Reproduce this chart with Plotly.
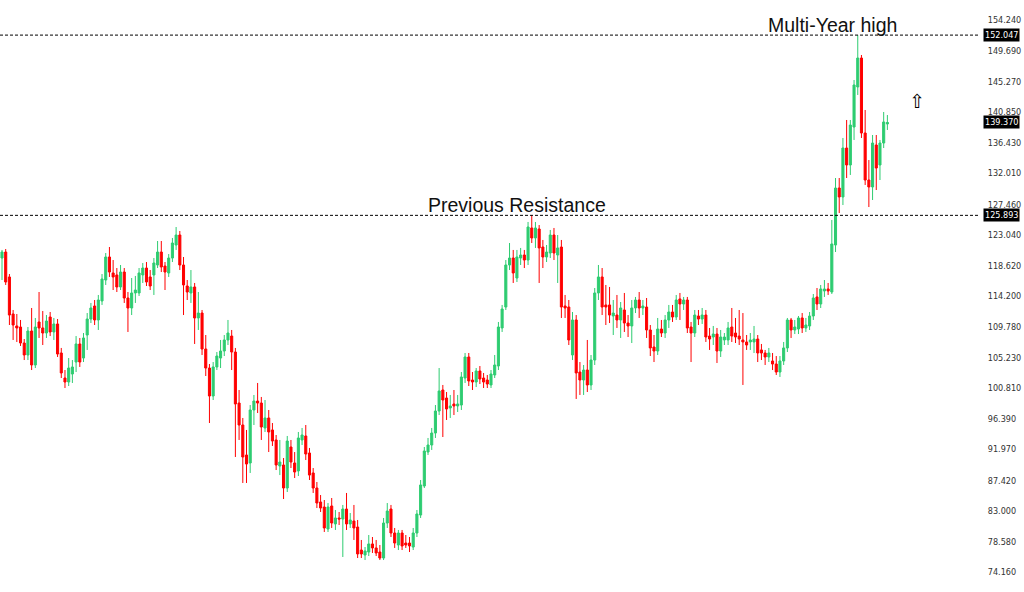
import plotly.graph_objects as go

# ---------------- data ----------------
opens = [119.70,120.57,116.95,111.58,109.84,109.69,107.37,105.63,109.11,104.18,
110.42,109.55,108.82,111.14,108.97,110.13,105.92,102.29,101.71,102.87,
104.61,107.23,105.19,108.53,110.85,112.74,110.71,113.47,116.51,119.85,
117.53,117.24,115.50,117.67,113.90,112.45,114.63,114.63,117.24,118.25,
116.95,117.24,118.69,120.57,118.54,117.53,119.70,121.59,123.04,118.69,
115.64,114.63,115.50,111.00,111.72,106.50,103.74,99.68,103.89,105.19,
106.21,107.81,108.38,106.06,98.66,95.47,91.12,89.96,97.65,98.95,
98.66,95.04,96.49,94.75,93.30,89.52,89.67,86.33,92.28,89.96,
88.80,93.30,93.88,91.41,88.51,86.33,84.30,83.57,80.38,83.72,
81.11,81.98,81.83,83.28,81.11,81.54,80.67,77.33,76.61,77.04,
78.21,77.63,77.04,76.17,81.25,83.28,79.80,78.06,79.80,78.35,
78.35,77.77,79.80,82.41,86.62,91.55,92.57,94.31,97.50,100.55,
99.39,97.94,98.52,98.23,98.37,102.29,105.34,102.00,101.71,103.31,
102.29,102.00,101.28,102.73,104.03,109.55,112.59,118.69,119.70,116.80,
119.70,120.14,119.41,124.06,122.61,123.91,121.30,119.85,120.43,123.04,
120.14,121.30,112.74,112.59,105.63,110.71,103.16,102.00,103.45,101.28,
104.90,114.63,116.95,112.89,112.89,111.29,111.43,110.71,112.16,110.27,
109.84,112.45,113.61,112.45,112.59,109.26,106.79,106.21,109.40,108.82,
110.71,111.87,111.14,113.76,113.03,113.61,109.69,108.82,111.29,110.85,
111.43,108.38,108.24,108.67,106.21,107.81,107.81,109.69,108.82,108.38,
107.81,107.52,107.52,107.52,107.95,106.36,105.92,105.34,104.76,104.32,
103.16,104.76,106.65,110.71,109.26,109.40,111.00,109.55,109.84,111.29,
114.05,113.03,114.92,115.21,114.77,121.59,129.86,128.56,135.66,133.20,
138.71,144.52,148.72,137.84,131.02,130.01,136.10,133.20,136.39,139.15]

closes = [120.57,116.22,111.43,109.98,109.55,107.37,105.63,109.11,104.18,109.69,
109.55,108.82,110.56,108.97,110.13,105.77,103.02,101.71,103.74,103.89,
107.23,104.61,108.10,110.85,112.45,110.71,113.61,116.66,119.85,117.67,
116.95,115.50,117.67,113.90,112.45,114.63,115.06,117.53,118.25,116.22,
115.64,118.98,120.57,118.40,117.67,119.70,121.88,123.04,118.69,115.79,
114.77,115.50,111.00,111.72,106.50,103.74,99.68,103.89,105.48,106.21,
107.81,108.82,106.06,98.52,95.47,90.83,89.81,97.65,98.95,98.66,
95.18,96.49,94.46,93.15,89.67,90.10,86.33,93.15,90.10,88.65,
93.59,94.02,91.26,88.21,86.33,84.15,83.43,80.53,83.57,81.25,
81.98,81.83,83.28,81.11,81.69,80.53,76.76,76.76,77.19,78.21,
77.63,76.90,76.17,81.25,82.99,79.80,78.35,79.80,77.92,78.06,
77.92,79.80,82.56,86.77,91.70,92.57,94.31,97.50,100.41,99.10,
97.79,98.23,98.23,98.52,102.44,105.34,101.86,101.71,103.31,102.15,
101.71,101.42,102.87,104.18,109.69,112.30,118.69,119.70,117.53,119.85,
120.14,119.41,124.20,122.61,124.06,121.16,119.85,120.57,123.04,120.43,
121.16,112.59,112.45,107.81,110.71,103.02,102.00,103.45,101.28,104.90,
114.63,116.95,112.59,112.59,111.43,111.72,110.71,112.45,110.27,109.84,
112.45,113.61,112.45,112.74,109.26,106.65,106.21,109.40,108.82,110.71,
111.87,111.14,113.61,113.03,113.61,109.55,108.82,111.43,110.85,111.43,
108.24,107.95,108.67,106.21,108.24,108.24,109.55,108.38,108.24,107.95,
107.52,107.08,107.81,107.95,105.92,105.92,105.34,105.92,104.32,103.16,
104.76,106.65,110.71,109.26,109.69,111.00,109.55,109.98,111.29,113.90,
113.03,115.21,115.21,114.92,121.74,129.86,128.56,135.66,133.20,139.00,
144.81,148.72,137.84,131.02,130.01,136.39,132.76,136.39,139.44,139.37]

highs = [120.87,121.01,117.38,112.16,111.58,110.71,107.95,109.69,112.45,111.00,
114.77,112.01,111.43,111.87,111.00,110.85,106.65,103.45,105.19,104.90,
108.38,108.10,108.82,111.72,113.18,113.61,114.34,117.38,120.43,121.30,
119.41,118.25,118.69,118.25,114.77,116.80,117.10,118.25,118.98,119.12,
117.96,119.70,122.17,122.17,119.12,120.28,122.61,124.20,123.62,119.85,
116.51,117.96,116.08,114.77,112.16,108.53,104.32,104.61,106.06,107.81,
108.53,110.71,109.26,106.65,100.55,96.49,94.75,98.37,99.83,101.57,
99.54,99.10,97.65,95.76,94.02,93.30,90.68,93.88,93.30,91.55,
94.46,95.04,95.47,92.14,89.23,87.20,85.31,84.59,84.15,84.88,
83.14,82.85,83.87,85.61,82.70,83.87,81.69,78.79,77.77,79.51,
79.22,78.79,78.06,81.98,84.15,83.87,80.53,80.24,80.24,79.51,
79.22,80.53,83.14,87.49,92.28,93.59,95.04,98.37,103.74,101.28,
100.26,99.83,100.55,99.83,103.16,105.92,105.92,103.16,103.74,104.03,
103.02,102.73,103.45,105.63,110.42,112.89,119.41,121.88,120.87,120.87,
121.16,120.87,124.93,125.94,124.93,124.49,122.32,121.59,123.77,124.06,
123.04,122.32,114.34,113.61,111.87,111.43,104.61,104.18,107.81,105.63,
115.35,118.69,118.25,115.79,115.50,113.61,114.34,113.32,114.63,111.43,
113.61,114.05,114.77,113.61,113.90,109.98,108.53,111.00,110.71,111.43,
112.89,112.89,114.34,114.63,114.05,114.05,110.42,112.16,112.16,112.45,
112.16,109.55,109.84,109.55,109.26,108.82,110.42,112.45,111.00,112.16,
111.72,108.53,108.82,109.84,108.53,107.23,106.36,106.65,105.92,105.48,
105.48,107.52,111.00,111.00,110.71,111.29,111.72,111.00,111.87,114.48,
115.35,115.79,116.51,116.08,125.22,131.31,131.31,137.12,139.73,139.73,
145.53,152.05,149.16,141.18,133.92,137.55,137.55,136.83,140.89,140.45]

lows = [116.51,115.79,109.98,107.81,107.52,106.94,104.90,104.90,103.45,103.74,
108.10,107.08,108.10,108.38,107.81,105.34,102.29,100.84,101.13,101.57,
103.16,103.89,104.61,106.36,110.27,109.98,109.26,112.89,115.79,116.95,
115.06,114.77,115.06,113.18,108.97,111.43,113.18,114.19,116.08,115.64,
115.06,114.34,118.25,117.67,115.06,116.95,119.12,120.87,117.96,111.43,
113.61,113.18,107.23,109.26,105.63,102.58,95.76,99.10,103.45,103.74,
105.48,107.08,103.45,90.83,93.30,87.06,87.06,88.51,95.47,97.21,
93.30,94.46,91.55,92.43,88.94,88.21,84.73,85.75,89.23,87.78,
88.07,92.57,90.39,87.49,85.61,83.43,82.85,79.95,79.95,80.53,
80.24,80.96,76.32,80.24,80.53,78.79,76.17,76.17,75.88,76.46,
76.90,76.46,75.88,75.88,80.53,79.22,77.63,77.33,77.33,77.63,
77.04,77.33,79.22,81.98,86.33,91.12,91.85,93.59,96.92,93.73,
96.20,96.49,96.92,97.36,97.65,101.57,101.13,100.55,100.98,101.42,
100.84,100.84,100.84,102.29,103.45,108.97,112.16,117.96,116.08,116.22,
118.69,118.25,118.69,121.88,121.16,116.08,118.25,119.12,119.70,119.41,
116.08,111.00,111.00,107.08,104.90,99.25,99.83,99.83,100.26,100.55,
104.18,113.61,111.43,109.98,110.27,108.53,109.55,108.10,108.97,108.24,
107.37,111.72,111.00,111.43,108.10,105.48,104.61,105.63,108.24,108.10,
109.55,110.42,110.71,110.71,112.16,108.82,104.61,108.24,109.98,110.13,
107.52,106.36,107.08,104.47,105.34,107.08,107.08,107.52,107.37,107.08,
101.28,106.36,106.36,105.92,104.61,104.90,104.18,104.61,103.45,102.73,
102.44,104.18,106.06,108.10,108.67,108.67,108.82,108.97,109.26,110.71,
112.16,112.45,114.05,114.34,114.48,120.57,126.23,127.39,131.31,131.75,
136.83,143.36,137.12,130.30,127.10,128.12,129.57,131.02,135.66,138.28]

y_ticks = [154.240, 149.690, 145.270, 140.850, 136.430, 132.010, 127.460,
           123.040, 118.620, 114.200, 109.780, 105.230, 100.810, 96.390,
           91.970, 87.420, 83.000, 78.580, 74.160]

multi_year_high = 152.047
previous_resistance = 125.893
last_price = 139.370

label_high = "Multi-Year high"
label_resistance = "Previous Resistance"

# ---------------- figure ----------------
bars = list(range(len(opens)))
GREEN = "#2ECC71"
RED = "#FF0000"
TICK_FAMILY = "DejaVu Sans Condensed, DejaVu Sans, sans-serif"
TICK_FONT = dict(family=TICK_FAMILY, size=9, color="#333333")

fig = go.Figure(go.Candlestick(
    x=bars, open=opens, high=highs, low=lows, close=closes,
    increasing=dict(line=dict(color=GREEN, width=1), fillcolor=GREEN),
    decreasing=dict(line=dict(color=RED, width=1), fillcolor=RED),
    whiskerwidth=0, showlegend=False, hoverinfo="skip",
))

# dashed key levels
for lvl in (multi_year_high, previous_resistance):
    fig.add_shape(type="line", xref="paper", x0=0, x1=1, yref="y", y0=lvl, y1=lvl,
                  line=dict(color="#000000", width=1, dash="3px,2px"))

# text labels on the levels
fig.add_annotation(x=224.3, y=multi_year_high, xref="x", yref="y", text=label_high,
                   showarrow=False, yanchor="bottom", yshift=-3,
                   font=dict(family="Liberation Sans, Arial, sans-serif", size=19.5, color="#111111"))
fig.add_annotation(x=139.0, y=previous_resistance, xref="x", yref="y", text=label_resistance,
                   showarrow=False, yanchor="bottom", yshift=-3,
                   font=dict(family="Liberation Sans, Arial, sans-serif", size=19.5, color="#111111"))

# highlighted price boxes on the price scale
for lvl in (multi_year_high, last_price, previous_resistance):
    fig.add_annotation(x=1, y=lvl, xref="paper", yref="y", text=f"{lvl:.3f}",
                       showarrow=False, xanchor="left", yanchor="middle", xshift=3,
                       bgcolor="#000000", borderpad=1,
                       font=dict(family=TICK_FAMILY, size=9, color="#FFFFFF"))

# small outlined up arrow
fig.add_annotation(x=246.9, y=142.5, xref="x", yref="y", text="⇧", showarrow=False,
                   font=dict(family="DejaVu Sans, sans-serif", size=19, color="#000000"))

fig.update_layout(
    width=1024, height=592,
    margin=dict(l=0, r=44, t=0, b=0),
    paper_bgcolor="#FFFFFF", plot_bgcolor="#FFFFFF",
    showlegend=False,
    boxgap=0.2,
    xaxis=dict(visible=False, range=[-0.54, 264.0], rangeslider=dict(visible=False)),
    yaxis=dict(side="right", range=[71.24, 157.14], tickvals=y_ticks,
               ticktext=[f"{v:.3f}" for v in y_ticks],
               showgrid=False, zeroline=False, showline=False,
               ticks="outside", ticklen=5, tickcolor="#FFFFFF",
               tickfont=TICK_FONT, fixedrange=True),
)

fig.write_html("out.html", config={"displayModeBar": False},
               post_script="document.body.style.margin='0';document.body.style.padding='0';"
                           "document.documentElement.style.overflow='hidden';")
